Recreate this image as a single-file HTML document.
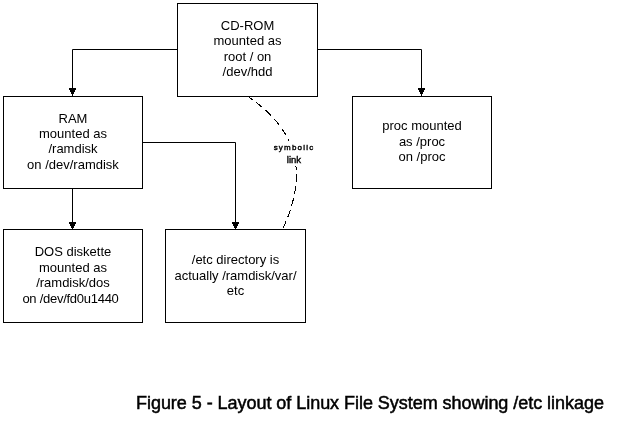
<!DOCTYPE html>
<html><head><meta charset="utf-8">
<style>
html,body{margin:0;padding:0;background:#fff;}
body{width:640px;height:436px;position:relative;overflow:hidden;font-family:"Liberation Sans",sans-serif;color:#000;}
svg{position:absolute;left:0;top:0;}
.t{position:absolute;will-change:transform;text-align:center;font-size:13px;line-height:15px;white-space:nowrap;}
.lbl{position:absolute;background:#fff;}
.l2{position:absolute;will-change:transform;font-size:8px;line-height:12px;letter-spacing:1.2px;-webkit-text-stroke:0.4px #000;text-align:center;white-space:nowrap;}
.cap{position:absolute;will-change:transform;font-size:18px;line-height:20px;white-space:nowrap;letter-spacing:-0.04px;-webkit-text-stroke:0.5px #000;}
</style></head><body>
<svg width="640" height="436" viewBox="0 0 640 436">
<g fill="none" stroke="#000" stroke-width="1">
<rect x="177.5" y="3.5" width="140" height="93"/>
<rect x="3.5" y="96.5" width="139" height="92"/>
<rect x="352.5" y="96.5" width="139" height="92"/>
<rect x="3.5" y="229.5" width="139" height="93"/>
<rect x="165.5" y="229.5" width="140" height="93"/>
<path d="M177 49.5H72.5V89"/>
<path d="M317 49.5H421.5V89"/>
<path d="M72.5 188V222"/>
<path d="M142 142.5H235.5V222"/>
<path d="M248 96.5C300.1 132.2 307.5 174.8 282.8 229" stroke-dasharray="7.7 4.5" stroke-dashoffset="2.1" shape-rendering="crispEdges"/>
</g>
<rect x="280" y="228" width="6" height="1" fill="#fff" shape-rendering="crispEdges"/>
<g fill="#000" shape-rendering="crispEdges"><rect x="69" y="88" width="7" height="2"/><rect x="70" y="90" width="5" height="2"/><rect x="71" y="92" width="3" height="2"/><rect x="72" y="94" width="1" height="2"/><rect x="418" y="88" width="7" height="2"/><rect x="419" y="90" width="5" height="2"/><rect x="420" y="92" width="3" height="2"/><rect x="421" y="94" width="1" height="2"/><rect x="69" y="222" width="7" height="2"/><rect x="70" y="224" width="5" height="2"/><rect x="71" y="226" width="3" height="2"/><rect x="72" y="228" width="1" height="1"/><rect x="232" y="222" width="7" height="2"/><rect x="233" y="224" width="5" height="2"/><rect x="234" y="226" width="3" height="2"/><rect x="235" y="228" width="1" height="1"/></g>
</svg>
<div class="t" style="left:177px;width:141px;top:18px">CD-ROM</div>
<div class="t" style="left:177px;width:141px;top:33px">mounted as</div>
<div class="t" style="left:177px;width:141px;top:49px">root / on</div>
<div class="t" style="left:177px;width:141px;top:64px">/dev/hdd</div>
<div class="t" style="left:3px;width:140px;top:111px">RAM</div>
<div class="t" style="left:3px;width:140px;top:126px">mounted as</div>
<div class="t" style="left:3px;width:140px;top:141px">/ramdisk</div>
<div class="t" style="left:3px;width:140px;top:157px">on /dev/ramdisk</div>
<div class="t" style="left:352px;width:140px;top:118px">proc mounted</div>
<div class="t" style="left:352px;width:140px;top:134px">as /proc</div>
<div class="t" style="left:352px;width:140px;top:149px">on /proc</div>
<div class="t" style="left:3px;width:140px;top:244px">DOS diskette</div>
<div class="t" style="left:3px;width:140px;top:260px">mounted as</div>
<div class="t" style="left:3px;width:140px;top:275px">/ramdisk/dos</div>
<div class="t" style="left:0px;width:141px;top:291px;letter-spacing:-0.27px">on /dev/fd0u1440</div>
<div class="t" style="left:165px;width:141px;top:252px">/etc directory is</div>
<div class="t" style="left:165px;width:141px;top:268px">actually /ramdisk/var/</div>
<div class="t" style="left:165px;width:141px;top:283px">etc</div>
<div class="lbl" style="left:271px;top:141px;width:46px;height:25px"></div><div class="l2" style="left:271px;top:142px;width:46px">symbolic</div><div class="l2" style="left:271px;top:154px;width:46px;font-size:9.5px;letter-spacing:0px">link</div>
<div class="cap" style="left:136px;top:393px">Figure 5 - Layout of Linux File System showing /etc linkage</div>
</body></html>
